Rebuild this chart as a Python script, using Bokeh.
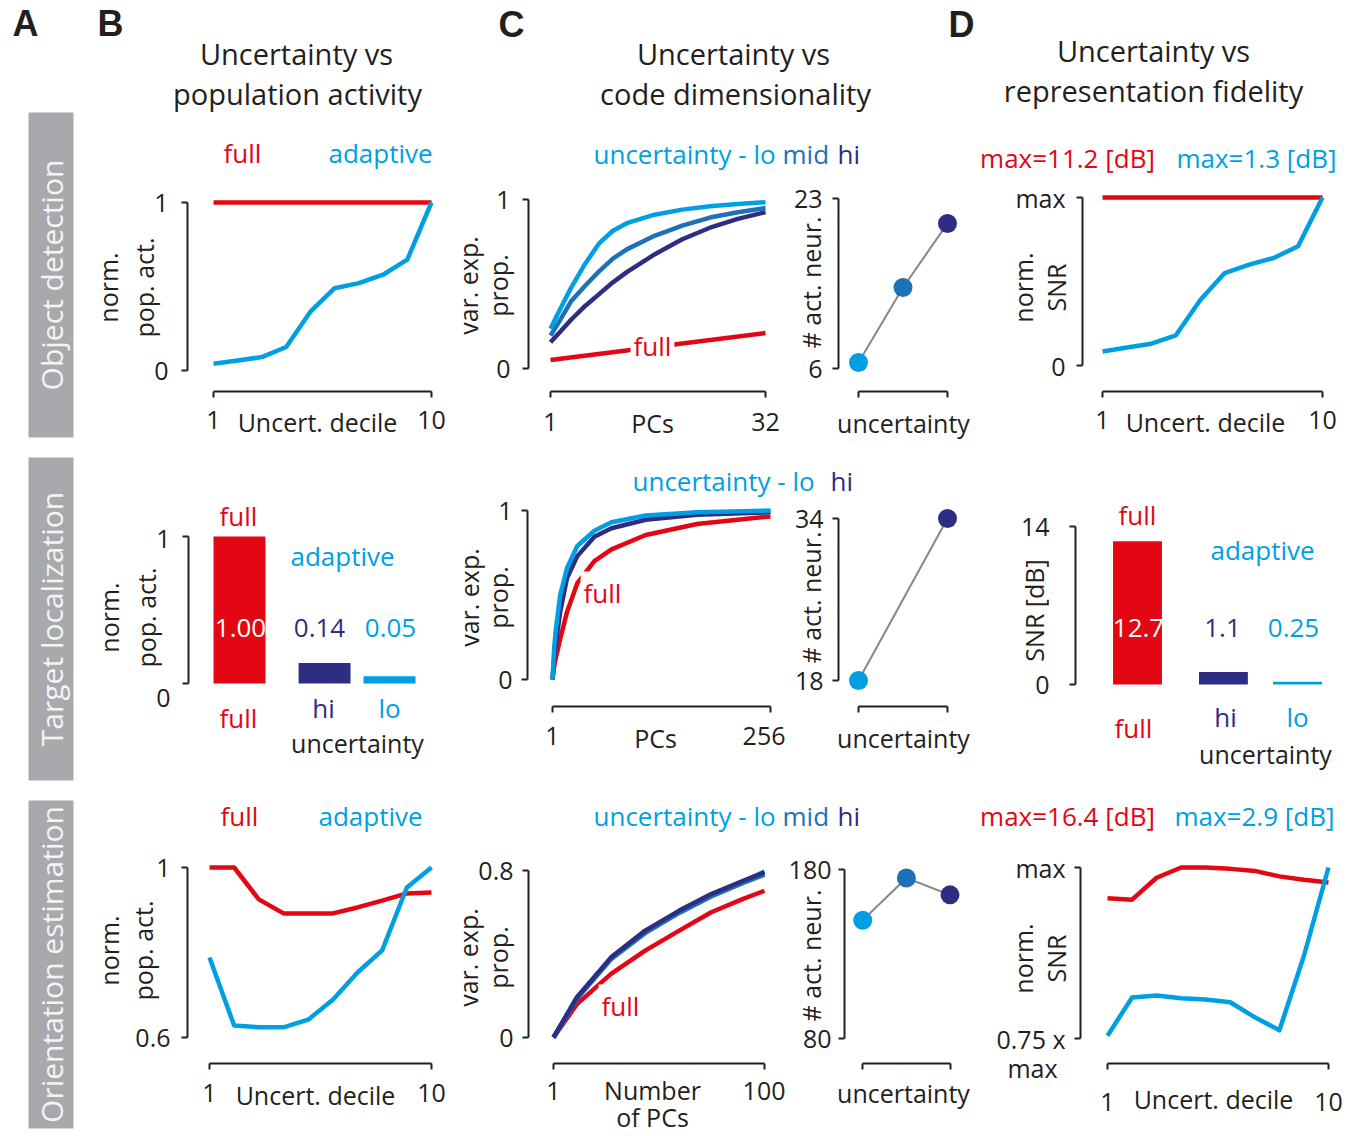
import math
from bokeh.plotting import figure
from bokeh.models import Range1d, FixedTicker, Label, BoxAnnotation, Spacer, GridBox
from bokeh.layouts import row, column
from bokeh.embed import file_html
from bokeh.resources import INLINE

# ---------------- data ----------------
deciles = [1, 2, 3, 4, 5, 6, 7, 8, 9, 10]
uncert_levels = ["lo", "mid", "hi"]
bar_groups = ["full", "hi", "lo"]
tasks = ["Object detection", "Target localization", "Orientation estimation"]

# Object detection
od_pop_full = [1.0, 1.0, 1.0, 1.0, 1.0, 1.0, 1.0, 1.0, 1.0, 1.0]
od_pop_adaptive = [0.04, 0.06, 0.08, 0.14, 0.35, 0.49, 0.52, 0.57, 0.66, 1.00]
od_pcs = [1, 2, 4, 6, 8, 10, 12, 16, 20, 24, 28, 32]
od_var_lo = [0.235, 0.32, 0.48, 0.62, 0.74, 0.815, 0.86, 0.91, 0.94, 0.96, 0.973, 0.984]
od_var_mid = [0.195, 0.26, 0.40, 0.49, 0.575, 0.65, 0.705, 0.785, 0.845, 0.893, 0.925, 0.95]
od_var_hi = [0.155, 0.20, 0.29, 0.37, 0.44, 0.51, 0.57, 0.675, 0.765, 0.833, 0.885, 0.925]
od_full_pcs = [1, 32]
od_var_full = [0.05, 0.21]
od_neurons = [6.6, 14.1, 20.5]
od_snr_full = [1.0, 1.0, 1.0, 1.0, 1.0, 1.0, 1.0, 1.0, 1.0, 1.0]
od_snr_adaptive = [0.083, 0.107, 0.13, 0.18, 0.39, 0.55, 0.60, 0.64, 0.71, 1.0]
od_snr_max = ["max=11.2 [dB]", "max=1.3 [dB]"]

# Target localization
tl_pop = [1.00, 0.14, 0.05]
tl_pop_text = ["1.00", "0.14", "0.05"]
tl_pcs = [1, 3, 5, 10, 18, 30, 50, 70, 110, 170, 256]
tl_var_lo = [0.0, 0.19, 0.30, 0.50, 0.66, 0.79, 0.88, 0.93, 0.97, 0.99, 1.0]
tl_var_hi = [0.0, 0.13, 0.22, 0.40, 0.60, 0.73, 0.845, 0.895, 0.945, 0.975, 0.99]
tl_var_full = [0.0, 0.08, 0.13, 0.24, 0.40, 0.57, 0.70, 0.77, 0.855, 0.92, 0.965]
tl_levels = ["lo", "hi"]
tl_neurons = [18, 34]
tl_snr = [12.7, 1.1, 0.25]
tl_snr_text = ["12.7", "1.1", "0.25"]

# Orientation estimation
oe_pop_full = [1.0, 1.0, 0.925, 0.892, 0.892, 0.892, 0.906, 0.922, 0.939, 0.941]
oe_pop_adaptive = [0.788, 0.628, 0.624, 0.624, 0.642, 0.689, 0.753, 0.805, 0.953, 1.0]
oe_pcs = [1, 12, 28, 44, 60, 75, 90, 100]
oe_var_lo = [0.0, 0.19, 0.38, 0.508, 0.603, 0.683, 0.748, 0.795]
oe_var_mid = [0.0, 0.185, 0.375, 0.50, 0.597, 0.676, 0.74, 0.78]
oe_var_hi = [0.0, 0.193, 0.384, 0.512, 0.608, 0.687, 0.751, 0.791]
oe_var_full = [0.0, 0.16, 0.305, 0.416, 0.512, 0.60, 0.664, 0.703]
oe_neurons = [150, 175, 165]
oe_snr_full = [0.955, 0.953, 0.985, 1.0, 1.0, 0.998, 0.995, 0.987, 0.982, 0.978]
oe_snr_adaptive = [0.754, 0.81, 0.813, 0.809, 0.807, 0.803, 0.781, 0.762, 0.871, 1.0]
oe_snr_max = ["max=16.4 [dB]", "max=2.9 [dB]"]

# ---------------- style ----------------
FONT = "Open Sans"
DARK = "#231f20"
RED = "#e30613"
LO = "#009fe3"
MID = "#1d71b8"
HI = "#2d2e83"
CONN = "#878787"
BOX = "#a7a9ac"
LEVEL_COLORS = {"lo": LO, "mid": MID, "hi": HI}
BAR_COLORS = [RED, HI, LO]
LW = 4.5
ROT = math.pi / 2
GAP_B = 0.31
GAP_D = 0.16
W, H = 1352, 1136


class Panel:
    def __init__(self, canvas, frame, xmap, ymap, xaxis=True):
        cx0, cy0, cx1, cy1 = canvas
        fx0, fy0, fx1, fy1 = frame
        (a, pa), (b, pb) = xmap
        (c, qc), (d, qd) = ymap
        self.a, self.pa, self.kx = a, pa, (b - a) / (pb - pa)
        self.c, self.qc, self.ky = c, qc, (d - c) / (qd - qc)
        p = figure(width=cx1 - cx0, height=cy1 - cy0,
                   x_range=Range1d(self.tx(fx0), self.tx(fx1)),
                   y_range=Range1d(self.ty(fy1), self.ty(fy0)),
                   min_border_left=fx0 - cx0, min_border_right=cx1 - fx1,
                   min_border_top=fy0 - cy0, min_border_bottom=cy1 - fy1,
                   x_axis_location="below" if xaxis else None,
                   toolbar_location=None, output_backend="svg")
        p.outline_line_color = None
        p.xgrid.grid_line_color = None
        p.ygrid.grid_line_color = None
        self.fig = p

    def tx(self, X):
        return self.a + (X - self.pa) * self.kx

    def ty(self, Y):
        return self.c + (Y - self.qc) * self.ky

    @staticmethod
    def _style(ax, ticks, standoff, overrides=None, labels=True):
        ax.ticker = FixedTicker(ticks=ticks, minor_ticks=[])
        ax.bounds = (ticks[0], ticks[-1])
        ax.axis_line_color = DARK
        ax.axis_line_width = 2
        ax.major_tick_line_color = DARK
        ax.major_tick_line_width = 2
        ax.major_tick_out = 6
        ax.major_tick_in = 0
        ax.minor_tick_line_color = None
        ax.major_label_text_font = FONT
        ax.major_label_text_font_size = "25px"
        ax.major_label_text_color = DARK if labels else None
        ax.major_label_standoff = standoff
        if overrides:
            ax.major_label_overrides = overrides

    def xaxis(self, ticks, standoff, overrides=None, labels=True):
        self._style(self.fig.xaxis[0], ticks, standoff, overrides, labels)

    def yaxis(self, ticks, standoff, overrides=None, labels=True):
        self._style(self.fig.yaxis[0], ticks, standoff, overrides, labels)

    def line(self, x, y, color, width=LW):
        self.fig.line(x, y, line_color=color, line_width=width, line_join="round")


# ---------------- overlay for all free text and the task boxes ----------------
ov = figure(width=W, height=H, x_range=Range1d(0, W), y_range=Range1d(H, 0),
            min_border_left=0, min_border_right=0, min_border_top=0, min_border_bottom=0,
            x_axis_location=None, y_axis_location=None,
            toolbar_location=None, output_backend="svg")
ov.outline_line_color = None
ov.background_fill_color = None
ov.border_fill_color = None
ov.xgrid.grid_line_color = None
ov.ygrid.grid_line_color = None


def T(X, Y, s, color=DARK, size=25, align="center", angle=0.0, font=FONT, bold=False, bg=None):
    kw = {}
    if bg is not None:
        kw = dict(background_fill_color=bg, padding=3)
    ov.add_layout(Label(x=X, y=Y, text=s, text_color=color, text_font=font,
                        text_font_size=f"{size}px",
                        text_font_style="bold" if bold else "normal",
                        text_align=align, text_baseline="middle", angle=angle, **kw))


# task boxes (left strip)
for name, (top, bottom) in zip(tasks, [(112, 437), (457, 780), (800, 1128)]):
    ov.add_layout(BoxAnnotation(left=28, right=73, top=top, bottom=bottom,
                                fill_color=BOX, fill_alpha=1.0, line_color=None))
    T(50.5, (top + bottom) / 2, name, color="#f4f4f4", size=30, angle=ROT)

# header
for letter, X, Y in [("A", 25, 23), ("B", 110, 23), ("C", 511, 24), ("D", 961, 24)]:
    T(X, Y, letter, size=36, bold=True, font="Liberation Sans")
T(296, 53, "Uncertainty vs", size=29)
T(297, 93, "population activity", size=29)
T(733, 53, "Uncertainty vs", size=29)
T(735, 93, "code dimensionality", size=29)
T(1153, 50, "Uncertainty vs", size=29)
T(1153, 90, "representation fidelity", size=29)

level_pos = {lv: i + 1 for i, lv in enumerate(uncert_levels)}
od_x = [level_pos[lv] for lv in uncert_levels]
tl_x = [level_pos[lv] for lv in tl_levels]

# ---------------- row 1: object detection ----------------
b1 = Panel((80, 112, 470, 447), (187, 112, 470, 391), ((1, 213), (10, 431)), ((0, 370), (1, 202)))
b1.xaxis([1, 10], 13)
b1.yaxis([0, 1], 13)
b1.line(deciles, od_pop_full, RED)
b1.line(deciles, od_pop_adaptive, LO)
T(242, 152, "full", RED, 26)
T(380, 152, "adaptive", LO, 26)
T(107, 287, "norm.", angle=ROT)
T(143, 287, "pop. act.", angle=ROT)
T(317, 421, "Uncert. decile")

c1 = Panel((470, 112, 785, 447), (528, 112, 785, 391), ((1, 550), (32, 765)), ((0, 368), (1, 199)))
c1.xaxis([1, 32], 15)
c1.yaxis([0, 1], 12)
c1.line(od_full_pcs, od_var_full, RED)
c1.line(od_pcs, od_var_hi, HI)
c1.line(od_pcs, od_var_mid, MID)
c1.line(od_pcs, od_var_lo, LO)
T(593, 153, "uncertainty - lo", LO, 26, align="left")
T(782, 153, "mid", MID, 26, align="left")
T(837, 153, "hi", HI, 26, align="left")
T(467, 285, "var. exp.", angle=ROT)
T(497, 285, "prop.", angle=ROT)
T(652, 422, "PCs")
T(652, 345, "full", RED, 26, bg="#ffffff")

cd1 = Panel((785, 112, 985, 447), (838, 112, 985, 391), ((1, 858), (3, 947)), ((6, 368), (23, 198)))
cd1.xaxis([1, 3], 8, labels=False)
cd1.yaxis([6, 23], 10)
cd1.fig.line(od_x, od_neurons, line_color=CONN, line_width=2)
cd1.fig.scatter(od_x, od_neurons, size=19, fill_color=[LEVEL_COLORS[lv] for lv in uncert_levels], line_color=None)
T(810, 282, "# act. neur.", angle=ROT)
T(903, 422, "uncertainty")

d1 = Panel((985, 112, W, 447), (1082, 112, W, 391), ((1, 1102), (10, 1322)), ((0, 365), (1, 197)))
d1.xaxis([1, 10], 13)
d1.yaxis([0, 1], 11, {0: "0", 1: "max"})
d1.line(deciles, od_snr_full, RED)
d1.line(deciles, od_snr_adaptive, LO)
T(1067, 157, od_snr_max[0], RED, 26)
T(1256, 157, od_snr_max[1], LO, 26)
T(1022, 287, "norm.", angle=ROT)
T(1055, 287, "SNR", angle=ROT)
T(1205, 421, "Uncert. decile")

# ---------------- row 2: target localization ----------------
bar_pos_b = [0, 1 + GAP_B, 2 + GAP_B]
b2 = Panel((80, 447, 470, 790), (188, 447, 470, 706), ((0, 239), (bar_pos_b[2], 389)), ((0, 683), (1, 536)), xaxis=False)
b2.yaxis([0, 1], 12, labels=False)
b2.fig.vbar(x=bar_pos_b, top=tl_pop, bottom=0, width=0.8, fill_color=BAR_COLORS, line_color=None)
T(170, 538, "1", align="right")
T(170, 697, "0", align="right")
T(238, 515, "full", RED, 26)
T(342, 555, "adaptive", LO, 26)
T(240, 627, tl_pop_text[0], "#ffffff", 26)
T(319, 627, tl_pop_text[1], HI, 26)
T(390, 627, tl_pop_text[2], LO, 26)
T(238, 717, bar_groups[0], RED, 26)
T(323, 707, bar_groups[1], HI, 26)
T(389, 707, bar_groups[2], LO, 26)
T(357, 742, "uncertainty")
T(108, 617, "norm.", angle=ROT)
T(145, 617, "pop. act.", angle=ROT)

c2 = Panel((470, 447, 785, 790), (527, 447, 785, 706), ((1, 552), (256, 770)), ((0, 679), (1, 510)))
c2.xaxis([1, 256], 14)
c2.yaxis([0, 1], 9)
c2.line(tl_pcs, tl_var_full, RED)
c2.line(tl_pcs, tl_var_hi, HI)
c2.line(tl_pcs, tl_var_lo, LO)
T(632, 480, "uncertainty - lo", LO, 26, align="left")
T(830, 480, "hi", HI, 26, align="left")
T(468, 597, "var. exp.", angle=ROT)
T(497, 597, "prop.", angle=ROT)
T(655, 737, "PCs")
T(602, 592, "full", RED, 26, bg="#ffffff")

cd2 = Panel((785, 447, 985, 790), (838, 447, 985, 706), ((1, 858), (3, 947)), ((18, 680), (34, 518)))
cd2.xaxis([1, 3], 8, labels=False)
cd2.yaxis([18, 34], 9)
cd2.fig.line(tl_x, tl_neurons, line_color=CONN, line_width=2)
cd2.fig.scatter(tl_x, tl_neurons, size=19, fill_color=[LEVEL_COLORS[lv] for lv in tl_levels], line_color=None)
T(810, 597, "# act. neur.", angle=ROT)
T(903, 737, "uncertainty")

bar_pos_d = [0, 1 + GAP_D, 2 + GAP_D]
d2 = Panel((985, 447, W, 790), (1075, 447, W, 706), ((0, 1137), (bar_pos_d[2], 1297)), ((0, 684), (14, 526)), xaxis=False)
d2.yaxis([0, 14], 20)
d2.fig.vbar(x=bar_pos_d, top=tl_snr, bottom=0, width=0.66, fill_color=BAR_COLORS, line_color=None)
T(1137, 514, "full", RED, 26)
T(1262, 549, "adaptive", LO, 26)
T(1138, 627, tl_snr_text[0], "#ffffff", 26)
T(1222, 627, tl_snr_text[1], HI, 26)
T(1293, 627, tl_snr_text[2], LO, 26)
T(1133, 727, bar_groups[0], RED, 26)
T(1225, 716, bar_groups[1], HI, 26)
T(1297, 716, bar_groups[2], LO, 26)
T(1265, 753, "uncertainty")
T(1033, 610, "SNR [dB]", angle=ROT)

# ---------------- row 3: orientation estimation ----------------
b3 = Panel((80, 790, 470, H), (187, 790, 470, 1063), ((1, 209), (10, 431)), ((0.6, 1037), (1, 867)))
b3.xaxis([1, 10], 14)
b3.yaxis([0.6, 1], 11, {0.6: "0.6", 1: "1"})
b3.line(deciles, oe_pop_full, RED)
b3.line(deciles, oe_pop_adaptive, LO)
T(239, 815, "full", RED, 26)
T(370, 815, "adaptive", LO, 26)
T(108, 950, "norm.", angle=ROT)
T(142, 950, "pop. act.", angle=ROT)
T(315, 1094, "Uncert. decile")

c3 = Panel((470, 790, 785, H), (528, 790, 785, 1063), ((1, 553), (100, 764)), ((0, 1037), (0.8, 870)))
c3.xaxis([1, 100], 12)
c3.yaxis([0, 0.8], 9, {0: "0", 0.8: "0.8"})
c3.line(oe_pcs, oe_var_full, RED)
c3.line(oe_pcs, oe_var_lo, LO)
c3.line(oe_pcs, oe_var_mid, MID)
c3.line(oe_pcs, oe_var_hi, HI)
T(593, 815, "uncertainty - lo", LO, 26, align="left")
T(782, 815, "mid", MID, 26, align="left")
T(837, 815, "hi", HI, 26, align="left")
T(467, 957, "var. exp.", angle=ROT)
T(497, 957, "prop.", angle=ROT)
T(652, 1089, "Number")
T(652, 1116, "of PCs")
T(620, 1005, "full", RED, 26, bg="#ffffff")

cd3 = Panel((785, 790, 985, H), (838, 790, 985, 1063), ((1, 857), (3, 948)), ((80, 1038), (180, 869)))
cd3.xaxis([1, 3], 8, labels=False)
cd3.yaxis([80, 180], 7)
cd3.fig.line(od_x, oe_neurons, line_color=CONN, line_width=2)
cd3.fig.scatter(od_x, oe_neurons, size=19, fill_color=[LEVEL_COLORS[lv] for lv in uncert_levels], line_color=None)
T(810, 955, "# act. neur.", angle=ROT)
T(903, 1092, "uncertainty")

d3 = Panel((985, 790, W, H), (1080, 790, W, 1063), ((1, 1107), (10, 1328)), ((0.75, 1038), (1, 867)))
d3.xaxis([1, 10], 23)
d3.yaxis([0.75, 1], 9, {0.75: "0.75 x", 1: "max"})
d3.line(deciles, oe_snr_full, RED)
d3.line(deciles, oe_snr_adaptive, LO)
T(1067, 815, oe_snr_max[0], RED, 26)
T(1254, 815, oe_snr_max[1], LO, 26)
T(1022, 958, "norm.", angle=ROT)
T(1055, 958, "SNR", angle=ROT)
T(1213, 1098, "Uncert. decile")
T(1032, 1067, "max")

main = column(
    Spacer(width=W, height=112),
    row(Spacer(width=80, height=335), b1.fig, c1.fig, cd1.fig, d1.fig),
    row(Spacer(width=80, height=343), b2.fig, c2.fig, cd2.fig, d2.fig),
    row(Spacer(width=80, height=346), b3.fig, c3.fig, cd3.fig, d3.fig),
)

page = GridBox(children=[(main, 0, 0), (ov, 0, 0)])

open("out.html", "w").write(file_html(page, INLINE))
